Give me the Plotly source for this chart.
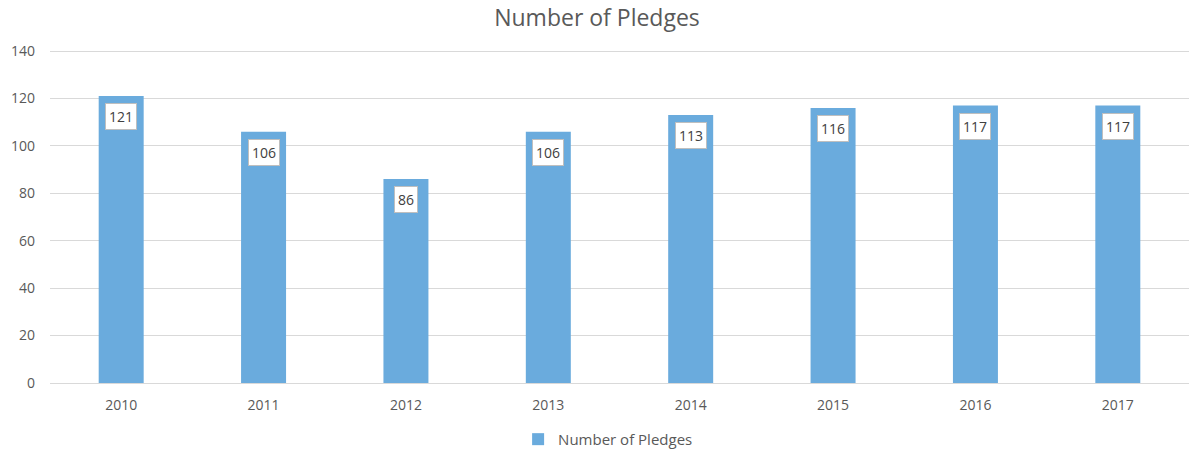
import plotly.graph_objects as go

years = ["2010", "2011", "2012", "2013", "2014", "2015", "2016", "2017"]
pledges = [121, 106, 86, 106, 113, 116, 117, 117]
y_ticks = [0, 20, 40, 60, 80, 100, 120, 140]

bar_color = "#6AABDD"
text_color = "#595959"
font_family = "Open Sans, sans-serif"

fig = go.Figure()
fig.add_trace(go.Bar(
    x=years, y=pledges, name="Number of Pledges",
    marker=dict(color=bar_color, line=dict(width=0)),
))

for i, v in enumerate(pledges):
    fig.add_annotation(
        x=i, y=v, text=str(v), showarrow=False,
        yanchor="top", yshift=-7,
        bgcolor="white", bordercolor="#BFBFBF", borderwidth=1, borderpad=3,
        font=dict(size=14, color="#404040", family=font_family),
    )

fig.update_layout(
    width=1194, height=453,
    margin=dict(l=50, r=5, t=49, b=70, autoexpand=False),
    paper_bgcolor="white", plot_bgcolor="white",
    title=dict(text="Number of Pledges", x=0.5, xanchor="center", y=0.96, yanchor="middle",
               font=dict(size=23, color=text_color, family=font_family)),
    bargap=0.684,
    showlegend=True,
    legend=dict(orientation="h", x=0.49, xanchor="center", yref="container", y=0.03, yanchor="middle",
                itemwidth=30,
                font=dict(size=15, color=text_color, family=font_family)),
    xaxis=dict(type="category", showgrid=False, showline=True, linecolor="#D9D9D9", ticks="",
               ticklabelstandoff=9,
               tickfont=dict(size=14, color=text_color, family=font_family)),
    yaxis=dict(range=[0, 140.85], tickvals=y_ticks, showgrid=True, gridcolor="#D9D9D9",
               zeroline=False, showline=False, ticks="", ticklabelstandoff=14,
               tickfont=dict(size=14, color=text_color, family=font_family)),
)

fig.write_html("out.html")
